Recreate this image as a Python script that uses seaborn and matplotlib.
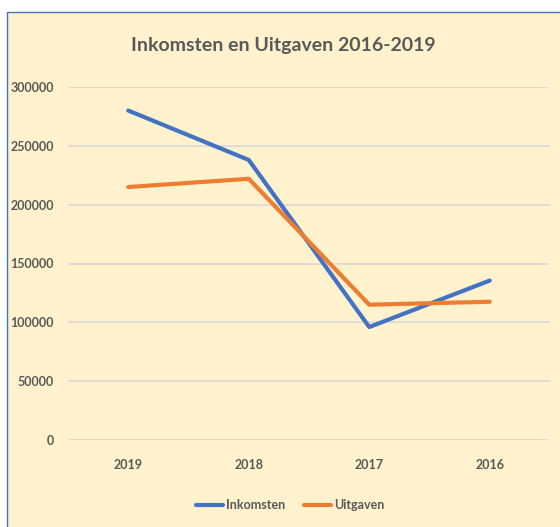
import matplotlib
matplotlib.use("Agg")
import matplotlib.pyplot as plt
import pandas as pd
import seaborn as sns
from matplotlib.patches import Rectangle

years = ["2019", "2018", "2017", "2016"]
inkomsten = [280000, 238000, 96000, 135500]
uitgaven = [215000, 222000, 115000, 117500]

df = pd.DataFrame({
    "Jaar": years * 2,
    "Bedrag": inkomsten + uitgaven,
    "Reeks": ["Inkomsten"] * 4 + ["Uitgaven"] * 4,
})

sns.set_theme(style="white")
plt.rcParams["font.family"] = ["Lato", "DejaVu Sans"]

bg = "#FFF2CC"
grey = "#595959"

fig = plt.figure(figsize=(5.6, 5.27), dpi=100)
fig.patch.set_facecolor("white")
# chart area background with blue border on left/top
fig.patches.append(Rectangle((7 / 560, -0.01), 1.0, (527 - 12) / 527 + 0.01,
                             transform=fig.transFigure, facecolor=bg,
                             edgecolor="#4472C4", linewidth=1.0, zorder=-1))

ax = fig.add_axes([68 / 560, (527 - 440) / 527, (550 - 68) / 560, (440 - 87) / 527])
ax.set_facecolor("none")

sns.lineplot(data=df, x="Jaar", y="Bedrag", hue="Reeks",
             palette={"Inkomsten": "#4472C4", "Uitgaven": "#ED7D31"},
             linewidth=3, ax=ax, solid_capstyle="round")

ax.set_xlim(-0.5, 3.5)
ax.set_ylim(0, 300000)
ax.set_yticks(range(0, 300001, 50000))
ax.yaxis.grid(True, color="#D9D9D9", linewidth=1.2)
ax.set_axisbelow(True)
for s in ax.spines.values():
    s.set_visible(False)
ax.tick_params(axis="both", length=0, colors=grey, labelsize=9)
ax.tick_params(axis="y", pad=10)
ax.tick_params(axis="x", pad=14)
for lbl in ax.get_xticklabels() + ax.get_yticklabels():
    lbl.set_fontweight("bold")
ax.set_xlabel("")
ax.set_ylabel("")

fig.text(0.5 + 7 / 1120, 1 - 45 / 527, "Inkomsten en Uitgaven 2016-2019",
         ha="center", va="center", fontsize=14, fontweight="bold", color=grey)

leg = ax.legend(loc="center", bbox_to_anchor=(290 / 560, 1 - 505 / 527),
                bbox_transform=fig.transFigure, ncol=2, frameon=False,
                handlelength=2.2, handletextpad=0.2, columnspacing=1.5,
                fontsize=9)
for t in leg.get_texts():
    t.set_color(grey)
    t.set_fontweight("bold")
for h in leg.get_lines():
    h.set_linewidth(3)

fig.savefig("out.png", dpi=100, facecolor=fig.get_facecolor())
